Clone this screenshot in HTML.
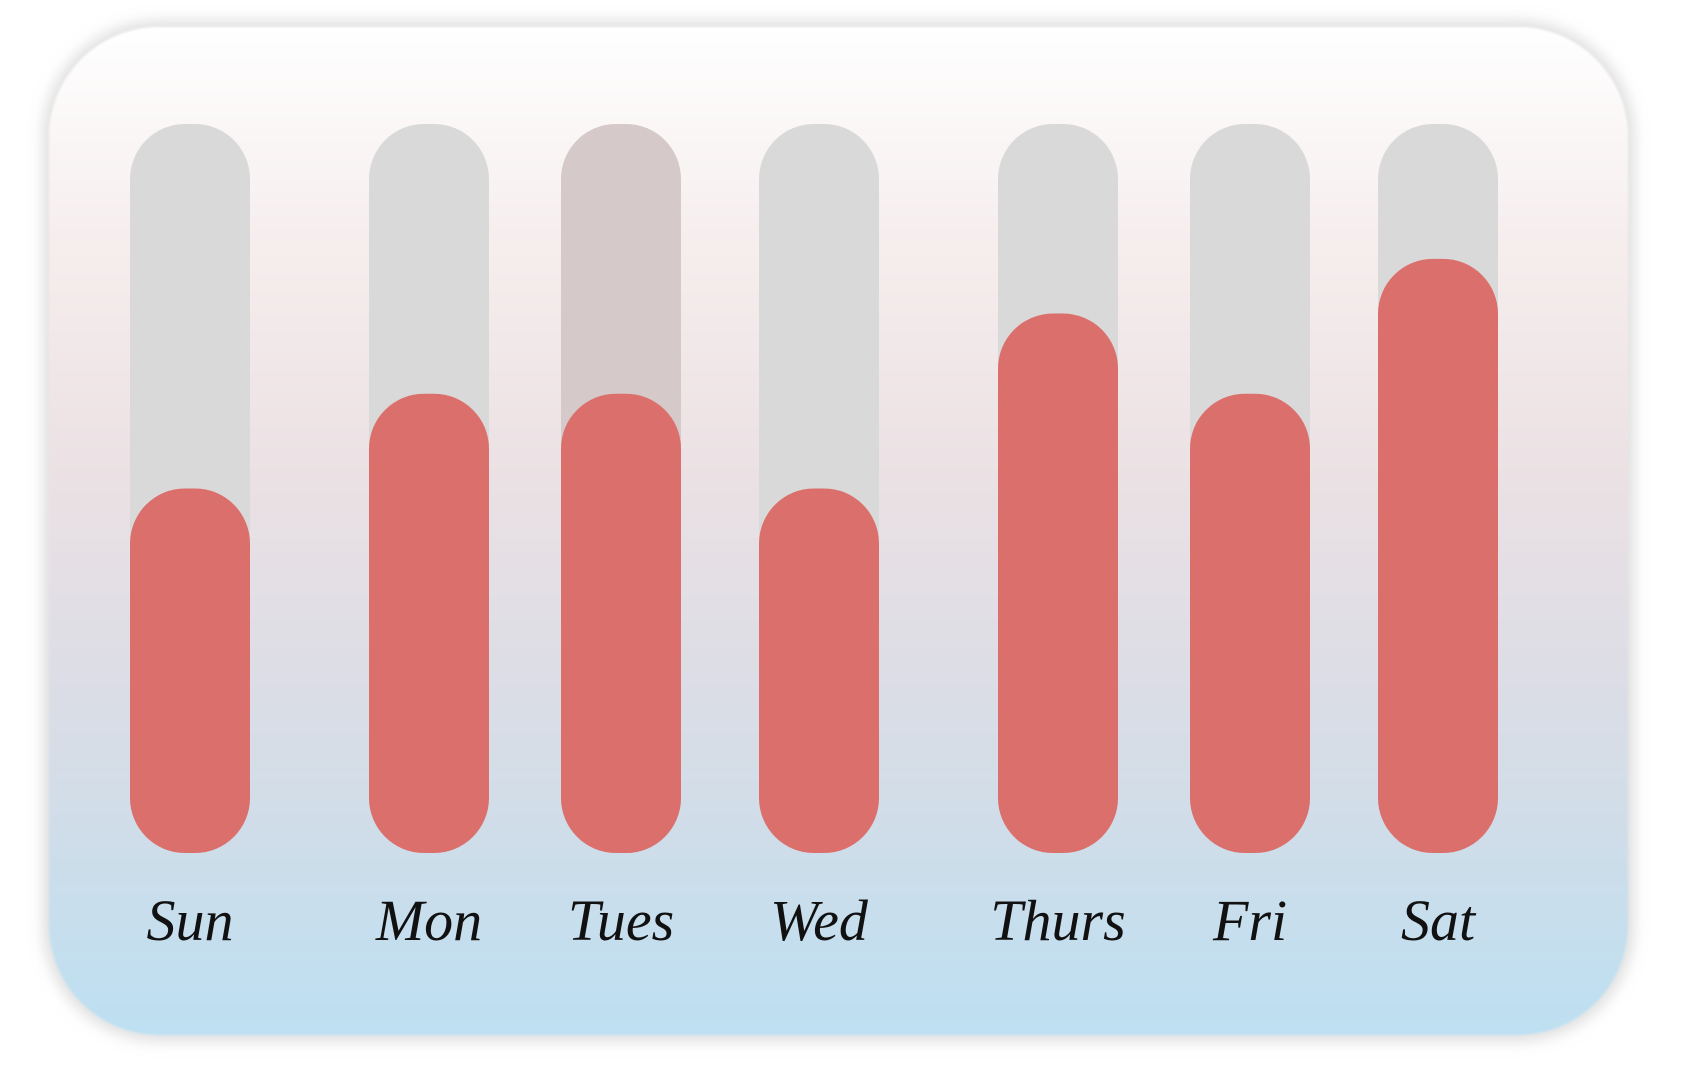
<!DOCTYPE html>
<html><head><meta charset="utf-8"><style>
html,body{margin:0;padding:0;background:#fff;}
body{width:1692px;height:1074px;position:relative;overflow:hidden;font-family:"Liberation Serif",serif;}
#card{position:absolute;left:49px;top:27px;width:1579px;height:1008px;border-radius:110px;
background:linear-gradient(to bottom,#ffffff 0%,#f6eded 22%,#ebe1e4 45%,#dcdde6 65%,#cfdde9 80%,#bde0f2 100%);
box-shadow:0 0 14px 6px rgba(200,200,200,0.6);filter:blur(1px);}
svg{position:absolute;left:0;top:0;}
</style></head><body>
<div id="card"></div>
<svg id="chart" width="1692" height="1074"></svg>
<script>
const categories=["Sun","Mon","Tues","Wed","Thurs","Fri","Sat"];
const values=[50,63,63,50,74,63,81.5];
const maxValue=100;
const centers=[190,429,621,819,1058,1250,1438];
const svg=document.getElementById('chart');
const NS='http://www.w3.org/2000/svg';
const trackTop=124,trackBottom=853,bw=120;
function yScale(v){return trackBottom-(v/maxValue)*(trackBottom-trackTop);}
categories.forEach((c,i)=>{
  const cx=centers[i];
  const t=document.createElementNS(NS,'rect');
  t.setAttribute('x',cx-bw/2);t.setAttribute('y',trackTop);t.setAttribute('width',bw);t.setAttribute('height',trackBottom-trackTop);
  t.setAttribute('rx',55);t.setAttribute('fill',c==='Tues'?'#d5c9ca':'#d9d9d9');
  
  
  svg.appendChild(t);
  const yv=yScale(values[i]);
  const b=document.createElementNS(NS,'rect');
  b.setAttribute('x',cx-bw/2);b.setAttribute('y',yv);b.setAttribute('width',bw);b.setAttribute('height',trackBottom-yv);
  b.setAttribute('rx',55);b.setAttribute('fill','#da6f6c');
  
  
  svg.appendChild(b);
  const l=document.createElementNS(NS,'text');
  l.setAttribute('x',cx);l.setAttribute('y',940);l.setAttribute('text-anchor','middle');
  l.setAttribute('font-size','58');l.setAttribute('font-style','italic');l.setAttribute('fill','#111');
  l.setAttribute('font-family','"Liberation Serif",serif');
  l.textContent=c;
  
  
  svg.appendChild(l);
});
</script>
</body></html>
